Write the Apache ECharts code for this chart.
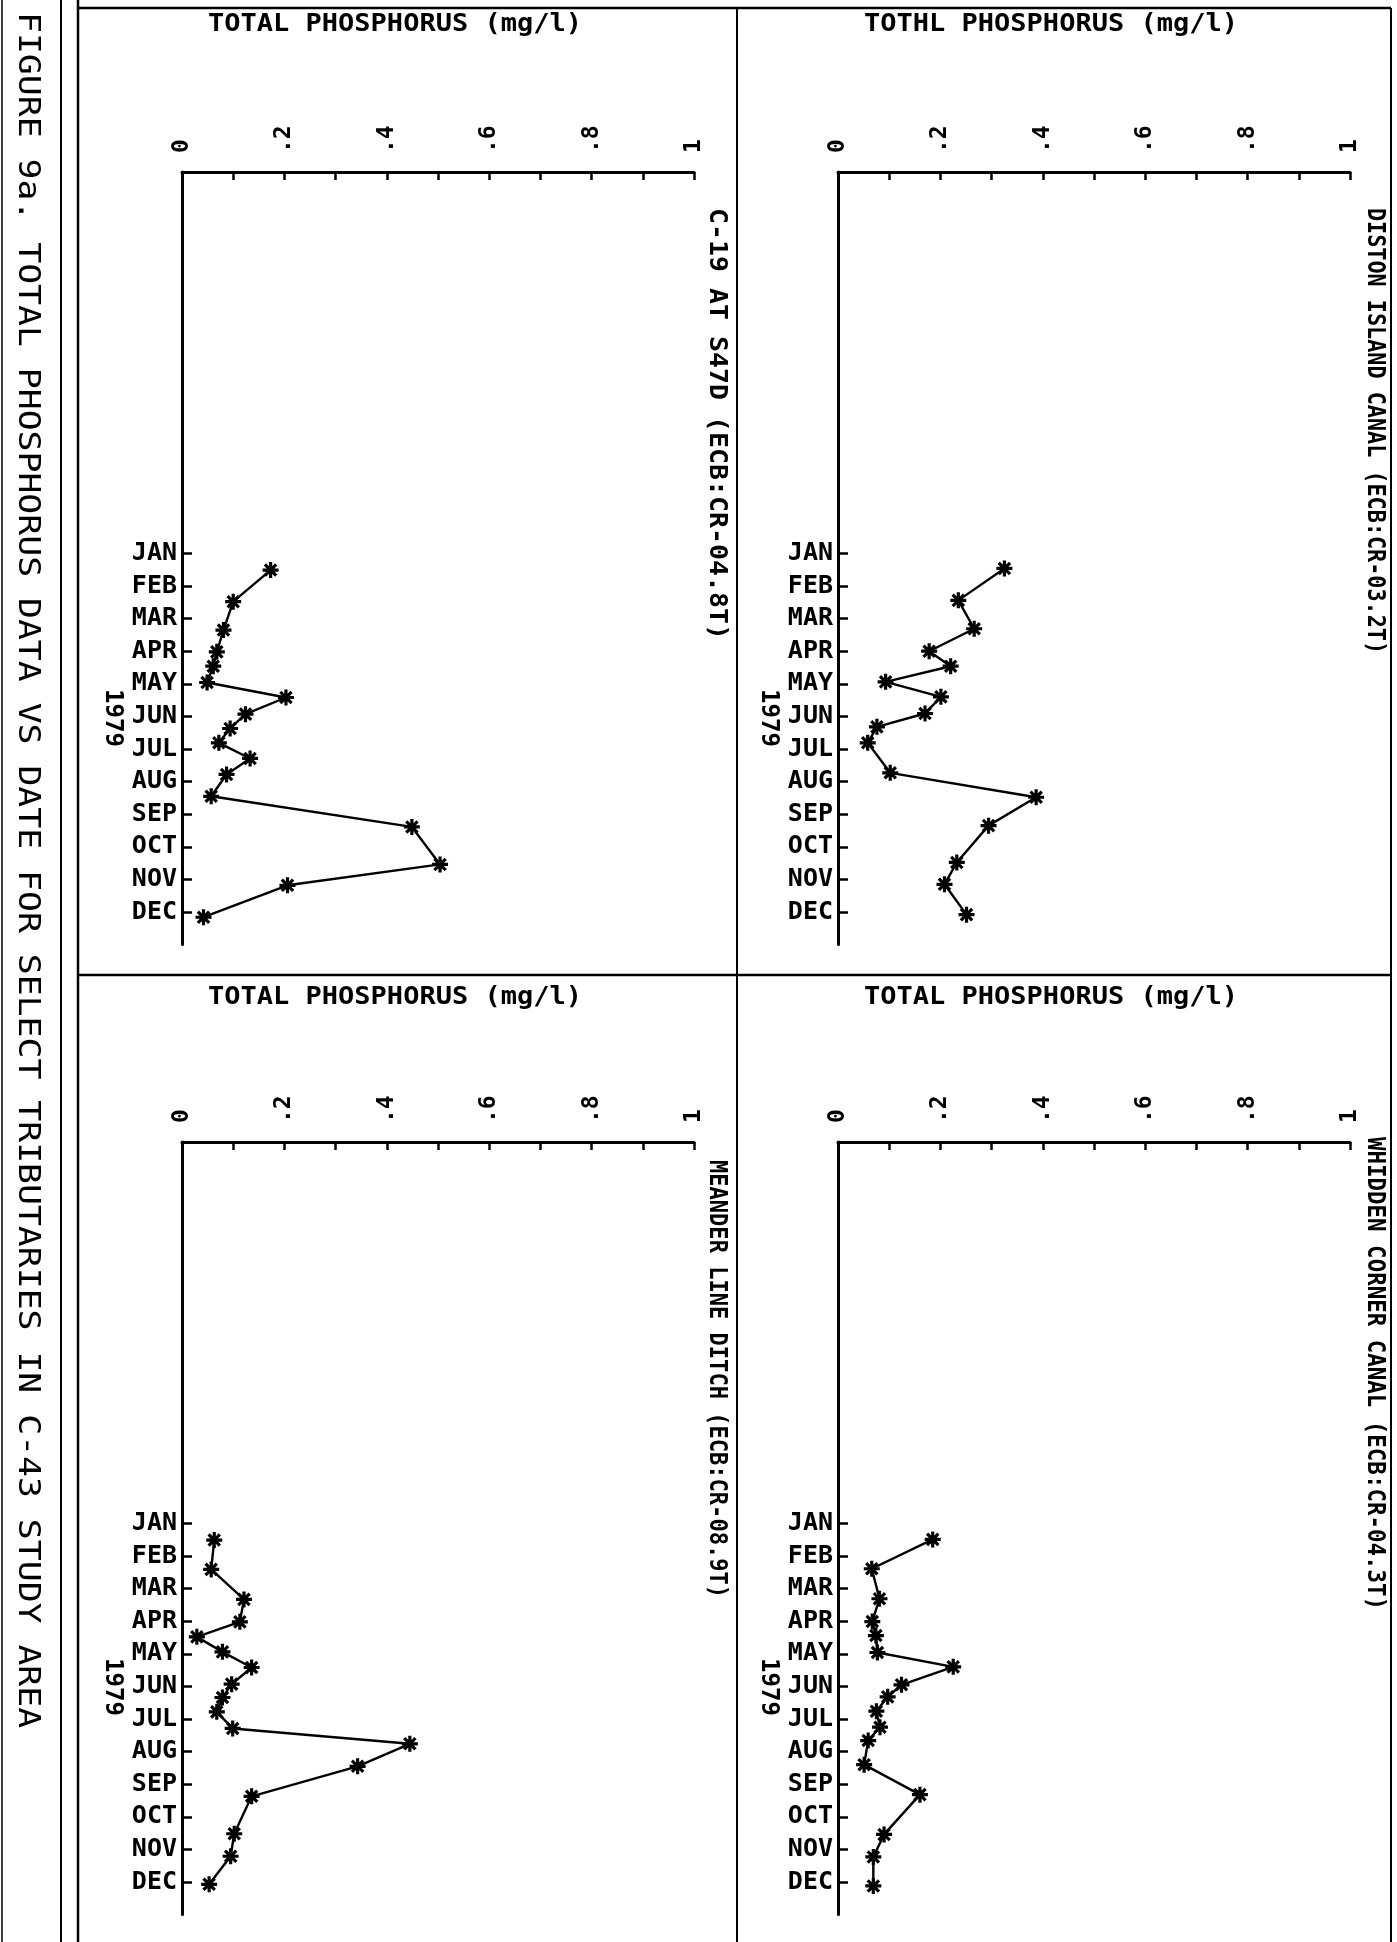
<!DOCTYPE html>
<html><head><meta charset="utf-8">
<script src="https://cdn.jsdelivr.net/npm/echarts@6/dist/echarts.min.js"></script>
<style>html,body{margin:0;padding:0;background:#fff}#c{width:1397px;height:1942px}</style>
</head><body><div id="c"></div>
<script>
// ---- DATA ----
const monthLabels = ['JAN','FEB','MAR','APR','MAY','JUN','JUL','AUG','SEP','OCT','NOV','DEC'];
const valueTickLabels = ['0', '.2', '.4', '.6', '.8', '1'];
const yearLabel = '1979';
const captionText = 'FIGURE 9a. TOTAL PHOSPHORUS DATA VS DATE FOR SELECT TRIBUTARIES IN C-43 STUDY AREA';

// sample dates, in months after the JAN tick
const c19Month = [0.51,1.48,2.35,3.02,3.46,3.96,4.42,4.93,5.37,5.81,6.29,6.78,7.45,8.39,9.54,10.18,11.16];
const c19TP    = [0.173,0.100,0.081,0.068,0.061,0.049,0.203,0.124,0.094,0.072,0.133,0.087,0.057,0.449,0.504,0.206,0.042];

const distonMonth = [0.46,1.44,2.31,3.00,3.46,3.94,4.40,4.91,5.32,5.81,6.73,7.48,8.35,9.48,10.15,11.08];
const distonTP    = [0.325,0.235,0.266,0.178,0.220,0.093,0.201,0.170,0.076,0.058,0.102,0.387,0.294,0.232,0.208,0.251];

const meanderMonth = [0.51,1.41,2.33,3.02,3.48,3.94,4.42,4.93,5.34,5.78,6.29,6.76,7.45,8.37,9.52,10.21,11.07];
const meanderTP    = [0.063,0.057,0.121,0.113,0.029,0.079,0.136,0.097,0.079,0.068,0.099,0.445,0.343,0.136,0.102,0.095,0.053];

const whiddenMonth = [0.49,1.39,2.31,3.01,3.44,3.96,4.40,4.95,5.32,5.76,6.25,6.66,7.40,8.32,9.54,10.23,11.12];
const whiddenTP    = [0.185,0.066,0.081,0.067,0.074,0.077,0.225,0.124,0.097,0.075,0.082,0.059,0.051,0.160,0.090,0.069,0.069];

const panelTitles = ['C-19 AT S47D (ECB:CR-04.8T)', 'DISTON ISLAND CANAL (ECB:CR-03.2T)',
                     'MEANDER LINE DITCH (ECB:CR-08.9T)', 'WHIDDEN CORNER CANAL (ECB:CR-04.3T)'];
const axisTitles = ['TOTAL PHOSPHORUS (mg/l)', 'TOTHL PHOSPHORUS (mg/l)',
                    'TOTAL PHOSPHORUS (mg/l)', 'TOTAL PHOSPHORUS (mg/l)'];

// ---- LAYOUT ----
const MONO = '"DejaVu Sans Mono", "Liberation Mono", monospace';
const panels = [
  {months: c19Month, vals: c19TP, left: 182, top: 172, titleX: 716, titleY: 208, titleLen: 432, yearY: 718},
  {months: distonMonth, vals: distonTP, left: 838, top: 172, titleX: 1374, titleY: 208, titleLen: 446, yearY: 718},
  {months: meanderMonth, vals: meanderTP, left: 182, top: 1142, titleX: 716, titleY: 1160, titleLen: 438, yearY: 1687},
  {months: whiddenMonth, vals: whiddenTP, left: 838, top: 1142, titleX: 1374, titleY: 1137, titleLen: 473, yearY: 1687}
];
const W = 512, MSTEP = 32.6, YMIN = -11.7, YMAX = 12;
const H = (YMAX - YMIN) * MSTEP;

const asterisk = 'path://M0,8L20,8L20,12L0,12Z M8,0L12,0L12,20L8,20Z M4.34,1.52L18.48,15.66L15.66,18.48L1.52,4.34Z M18.48,4.34L4.34,18.48L1.52,15.66L15.66,1.52Z';

function vText(text, x, y, fontSize, len, weight, align) {
  const sx = len ? len / (text.length * 0.602 * fontSize) : 1;
  return {type: 'text', x: x, y: y, rotation: -Math.PI / 2, scaleX: sx, z: 10,
    style: {text: text, x: 0, y: 0, textAlign: align || 'left', textVerticalAlign: 'middle',
      font: (weight || 'bold') + ' ' + fontSize + 'px ' + MONO, fill: '#000'}};
}
function hText(text, x, y, fontSize, len) {
  const sx = len ? len / (text.length * 0.602 * fontSize) : 1;
  return {type: 'text', x: x, y: y, scaleX: sx, z: 10,
    style: {text: text, x: 0, y: 0, textAlign: 'center', textVerticalAlign: 'middle',
      font: 'bold ' + fontSize + 'px ' + MONO, fill: '#000'}};
}
function line(x1, y1, x2, y2, w) {
  return {type: 'line', shape: {x1, y1, x2, y2}, style: {stroke: '#000', lineWidth: w || 2}, z: 5};
}

const grids = [], xAxes = [], yAxes = [], series = [], graphics = [];
const monthIdx = monthLabels.map((m, i) => i);
panels.forEach((p, i) => {
  grids.push({left: p.left, top: p.top, width: W, height: H, containLabel: false, outerBoundsMode: 'none'});
  xAxes.push({type: 'value', gridIndex: i, position: 'top', min: 0, max: 1, interval: 0.1,
    axisLine: {onZero: false, lineStyle: {color: '#000', width: 3}},
    axisTick: {inside: true, length: 8, lineStyle: {color: '#000', width: 2.5}},
    splitLine: {show: false},
    axisLabel: {rotate: -90, margin: 19, color: '#000', fontFamily: MONO, fontWeight: 'bold', fontSize: 23,
      formatter: v => { const k = Math.round(v * 10); return k % 2 ? '' : valueTickLabels[k / 2]; }}});
  yAxes.push({type: 'value', gridIndex: i, position: 'left', inverse: true, min: YMIN, max: YMAX,
    axisLine: {onZero: false, lineStyle: {color: '#000', width: 3}},
    axisTick: {inside: true, length: 10, customValues: monthIdx, lineStyle: {color: '#000', width: 2.5}},
    splitLine: {show: false},
    axisLabel: {customValues: monthIdx, margin: 5, color: '#000', fontFamily: MONO, fontWeight: 'bold', fontSize: 25,
      formatter: v => monthLabels[Math.round(v)]}});
  series.push({type: 'line', xAxisIndex: i, yAxisIndex: i,
    data: p.months.map((m, k) => [p.vals[k], m]),
    symbol: asterisk, symbolSize: 16, showSymbol: true,
    lineStyle: {color: '#000', width: 2.4}, itemStyle: {color: '#000'},
    animation: false});
  graphics.push(vText(panelTitles[i], p.titleX, p.titleY, 24, p.titleLen));
  graphics.push(hText(axisTitles[i], p.left + 213, p.top < 500 ? 25 : 998, 24, 374));
  graphics.push(vText(yearLabel, p.left - 70, p.yearY, 24, 0, 'bold', 'center'));
});

// frame
graphics.push(line(2, 0, 2, 1942, 1.5));
graphics.push(line(61, 0, 61, 1942, 2));
graphics.push(line(78, 0, 78, 1942, 2.5));
graphics.push(line(78, 8, 1391, 8, 2.5));
graphics.push(line(1391, 8, 1391, 1942, 2));
graphics.push(line(737, 8, 737, 1942, 2));
graphics.push(line(78, 975, 1391, 975, 2.5));
// caption
graphics.push(vText(captionText, 27, 12, 30, 1716, 'normal'));

const chart = echarts.init(document.getElementById('c'), null, {renderer: 'canvas'});
chart.setOption({
  animation: false,
  backgroundColor: '#fff',
  grid: grids, xAxis: xAxes, yAxis: yAxes, series: series,
  graphic: {elements: graphics}
});
</script></body></html>
